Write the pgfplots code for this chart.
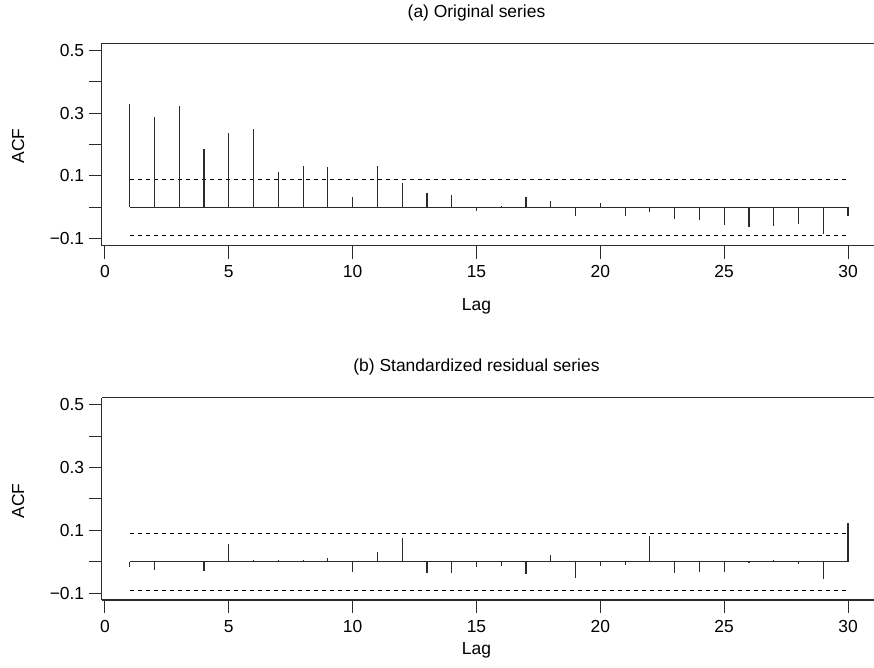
\documentclass[border=0pt]{standalone}
\usepackage{fontspec}
\setmainfont{Liberation Sans}
\usepackage{pgfplots}
\usepackage{pgfplotstable}
\pgfplotsset{compat=1.18}

\pgfplotstableread{
lag acf
1 0.329
2 0.289
3 0.324
4 0.187
5 0.236
6 0.251
7 0.114
8 0.132
9 0.130
10 0.034
11 0.131
12 0.077
13 0.047
14 0.039
15 -0.012
16 0.005
17 0.033
18 0.021
19 -0.028
20 0.013
21 -0.028
22 -0.015
23 -0.037
24 -0.039
25 -0.057
26 -0.061
27 -0.060
28 -0.053
29 -0.084
30 -0.028
}\tableA

\pgfplotstableread{
lag acf
1 -0.017
2 -0.026
3 0.003
4 -0.030
5 0.057
6 0.005
7 0.007
8 0.006
9 0.011
10 -0.033
11 0.032
12 0.077
13 -0.036
14 -0.036
15 -0.017
16 -0.014
17 -0.038
18 0.021
19 -0.052
20 -0.015
21 -0.010
22 0.082
23 -0.036
24 -0.033
25 -0.034
26 -0.005
27 0.004
28 -0.007
29 -0.055
30 0.124
}\tableB

\definecolor{ink}{HTML}{2B2B2B}
\newcommand{\lbl}{\fontsize{17.5}{20}\selectfont}

\pgfplotsset{acfstyle/.style={
  scale only axis, width=772.3bp, height=202.5bp,
  xmin=-0.133, xmax=31.05, ymin=-0.122, ymax=0.523,
  axis x line*=bottom, axis y line*=left,
  axis line style={line width=1.1bp, color=ink},
  tick align=outside,
  major tick length=13bp, minor tick length=13bp,
  every tick/.style={line width=1bp, color=ink},
  xtick={0,5,10,15,20,25,30},
  xticklabels={0,5,10,15,20,25,30},
  ytick={-0.1,0.1,0.3,0.5},
  yticklabels={−0.1,0.1,0.3,0.5},
  minor ytick={0,0.2,0.4},
  tick label style={font=\lbl, color=black},
  xticklabel shift=3.5bp,
  yticklabel shift=1bp,
  clip=false,
}}

\begin{document}
\begin{tikzpicture}
\useasboundingbox (0,0) rectangle (874bp,668bp);

\begin{axis}[acfstyle, at={(101.7bp,422.3bp)}, anchor=south west]
  \draw[line width=1.1bp, ink] (rel axis cs:0,1) -- (rel axis cs:1,1);
  \addplot[black, line width=0.9bp, dash pattern=on 4bp off 4bp] coordinates {(1,0.09) (30,0.09)};
  \addplot[black, line width=0.9bp, dash pattern=on 4bp off 4bp] coordinates {(1,-0.09) (30,-0.09)};
  \addplot[ink, line width=1.2bp] coordinates {(1,0) (30,0)};
  \addplot[ink, line width=1.2bp, ycomb, no marks] table[x=lag, y=acf] {\tableA};
\end{axis}

\begin{axis}[acfstyle, at={(101.7bp,68bp)}, anchor=south west]
  \draw[line width=1.1bp, ink] (rel axis cs:0,1) -- (rel axis cs:1,1);
  \addplot[black, line width=0.9bp, dash pattern=on 4bp off 4bp] coordinates {(1,0.09) (30,0.09)};
  \addplot[black, line width=0.9bp, dash pattern=on 4bp off 4bp] coordinates {(1,-0.09) (30,-0.09)};
  \addplot[ink, line width=1.2bp] coordinates {(1,0) (30,0)};
  \addplot[ink, line width=1.2bp, ycomb, no marks] table[x=lag, y=acf] {\tableB};
\end{axis}

\node[font=\lbl] at (476.5bp,655bp) {(a) Original series};
\node[font=\lbl] at (476.5bp,301bp) {(b) Standardized residual series};
\node[font=\lbl, rotate=90] at (18bp,522bp) {ACF};
\node[font=\lbl, rotate=90] at (18bp,167bp) {ACF};
\node[font=\lbl] at (476.5bp,362bp) {Lag};
\node[font=\lbl] at (476.5bp,18bp) {Lag};
\end{tikzpicture}
\end{document}
